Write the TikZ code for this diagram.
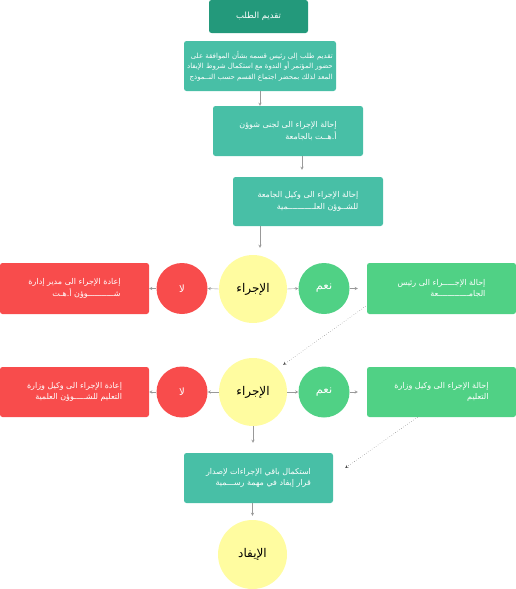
\documentclass[tikz,border=0pt]{standalone}
\usepackage{fontspec}
\newfontfamily\arabicfont[Script=Arabic]{DejaVu Sans}
\TeXXeTstate=1
\usepackage{xcolor}

\definecolor{darkteal}{HTML}{23997B}
\definecolor{tealbox}{HTML}{48BFA6}
\definecolor{redbox}{HTML}{F84C4C}
\definecolor{greenbox}{HTML}{50D185}
\definecolor{yellowq}{HTML}{FFFCA0}

\begin{document}
\begin{tikzpicture}[x=1pt,y=-1pt,
    stepbox/.style={fill=tealbox, rounded corners=2.5pt, minimum width=150pt,
        minimum height=50pt, inner sep=0pt, text=white, align=right,
        font=\arabicfont\fontsize{8}{11.5}\selectfont},
    askq/.style={circle, fill=yellowq, minimum size=68pt, inner sep=0pt,
        font=\arabicfont\fontsize{12}{14}\selectfont},
    nobox/.style={stepbox, fill=redbox, minimum width=149pt},
    yesbox/.style={stepbox, fill=greenbox, minimum width=149pt},
    answer/.style={circle, minimum size=51pt, inner sep=0pt, text=white,
        font=\arabicfont\fontsize{11.5}{13}\selectfont},
    flow/.style={draw=gray!80, line width=0.4pt, ->, >=stealth},
    back/.style={draw=black!70, line width=0.4pt, dotted, ->, >=stealth}]
\useasboundingbox (0,0) rectangle (516,589);

% Top: request and first steps
\node[stepbox, fill=darkteal, minimum width=99pt, minimum height=33pt,
    font=\arabicfont\fontsize{8.5}{10}\selectfont] (b1) at (258.5,16.5)
    {\beginR تقديم الطلب\endR};
\node[stepbox, minimum width=152pt, font=\arabicfont\fontsize{7}{10.5}\selectfont] (b2) at (260,66)
    {\beginR تقديم طلب إلى رئيس قسمه بشأن الموافقة على\endR\\
     \beginR حضور المؤتمر أو الندوة مع استكمال شروط الإيفاد\endR\\
     \beginR المعد لذلك بمحضر اجتماع القسم حسب النــموذج\endR};
\node[stepbox] (b3) at (288,131)
    {\beginR إحالة الإجراء الى لجنى شوؤن\endR\\
     \beginR أ.هــت بالجامعة\endR};
\node[stepbox, minimum height=49pt] (b4) at (308,201.5)
    {\beginR إحالة الإجراء الى وكيل الجامعة\endR\\
     \beginR للشــوؤن العلـــــــــــمية\endR};

% Row 1: first decision
\node[askq] (q1) at (253,289) {\beginR الإجراء\endR};
\node[answer, fill=redbox, font=\arabicfont\fontsize{10}{12}\selectfont] (n1) at (182,288.5) {\beginR لا\endR};
\node[answer, fill=greenbox] (y1) at (324,288.5) {\beginR نعم\endR};
\node[nobox, minimum height=51pt] (r1) at (74.5,288.5)
    {\beginR إعادة  الإجراء الى مدير إدارة\endR\\
     \beginR شـــــــــــوؤن أ.هـت\endR};
\node[yesbox, minimum height=51pt] (g1) at (441.5,288.5)
    {\beginR إحالة  الإجـــــراء الى رئيس\endR\\
     \beginR الجامـــــــــــــعة\endR};

% Row 2: second decision
\node[askq] (q2) at (253,392) {\beginR الإجراء\endR};
\node[answer, fill=redbox, font=\arabicfont\fontsize{10}{12}\selectfont] (n2) at (182,392) {\beginR لا\endR};
\node[answer, fill=greenbox] (y2) at (324,392) {\beginR نعم\endR};
\node[nobox] (r2) at (74.5,392)
    {\beginR إعادة  الإجراء الى وكيل وزارة\endR\\
     \beginR التعليم للشـــــوؤن العلمية\endR};
\node[yesbox] (g2) at (441.5,392)
    {\beginR إحالة  الإجراء الى وكيل وزارة\endR\\
     \beginR التعليم\endR};

% Bottom: completion and result
\node[stepbox, minimum width=149pt] (b5) at (258.5,478)
    {\beginR استكمال باقي الإجراءات لإصدار\endR\\
     \beginR قرار إيفاد في مهمة رســـمية\endR};
\node[askq, minimum size=69pt] (q3) at (252.5,554.5) {\beginR الإيفاد\endR};

% Connectors
\draw[flow] (b2.south) -- ([xshift=-28pt]b3.north);
\draw[flow, shorten >=7pt] ([xshift=14pt]b3.south) -- ([xshift=-6pt]b4.north);
\draw[flow, shorten >=7pt] ([xshift=-48pt]b4.south) -- ([xshift=7pt]q1.north);
\draw[flow] (q1.west) -- (n1.east);
\draw[flow] (q1.east) -- (y1.west);
\draw[flow, shorten >=9pt] (y1.east) -- (g1.west);
\draw[flow] (n1.west) -- (r1.east);
\draw[back] ([xshift=-1pt,yshift=8pt]g1.south west) -- ([shift={(6pt,3pt)}]q2.45);
\draw[flow] (q2.west) -- (n2.east);
\draw[flow] (q2.east) -- (y2.west);
\draw[flow, shorten >=9pt] (y2.east) -- (g2.west);
\draw[flow] (n2.west) -- (r2.east);
\draw[back] ([xshift=-24pt]g2.south) -- ([shift={(12pt,10pt)}]b5.east);
\draw[flow, shorten >=10pt] (q2.south) -- (q2.south |- b5.north);
\draw[flow, shorten >=4pt] ([xshift=-6pt]b5.south) -- (q3.north);
\end{tikzpicture}
\end{document}
